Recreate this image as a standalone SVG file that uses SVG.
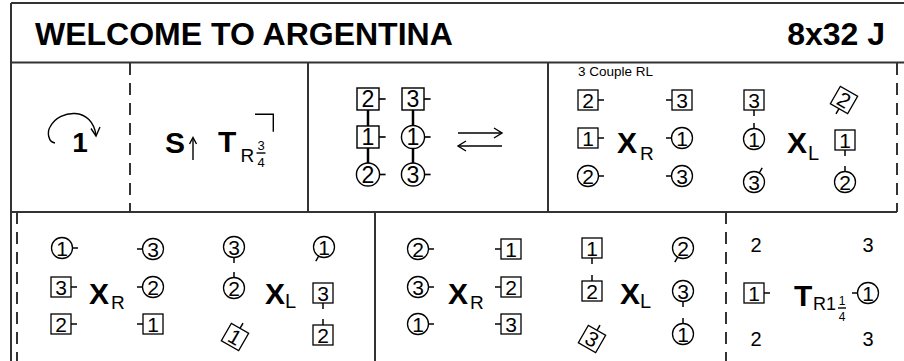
<svg xmlns="http://www.w3.org/2000/svg" xmlns:xlink="http://www.w3.org/1999/xlink" width="904" height="361" viewBox="0 0 904 361">
<style>
.f{fill:none;stroke:#333;stroke-width:2}
.d{stroke-dasharray:12 8}
.s{fill:#fff;stroke:#000;stroke-width:1.3}
.t{stroke:#000;stroke-width:1.5}
.c{fill:none;stroke:#000;stroke-width:1.4}
.k{stroke:#000;stroke-width:2.5}
.n{font-family:'Liberation Sans',Arial,sans-serif;font-size:21px;text-anchor:middle;fill:#000}
.b{font-family:'Liberation Sans',Arial,sans-serif;font-weight:bold;fill:#000}
.r{font-family:'Liberation Sans',Arial,sans-serif;fill:#000}
</style>
<defs>
<rect id="sq" x="-10" y="-10" width="20" height="20"/>
<circle id="ci" r="10.5"/>
<line id="tr" x1="10" y1="0" x2="16" y2="0"/>
<line id="tl" x1="-10" y1="0" x2="-16" y2="0"/>
<line id="tu" x1="0" y1="-10" x2="0" y2="-16"/>
<line id="td" x1="0" y1="10" x2="0" y2="16"/>
<line id="tur" x1="5.2" y1="-9" x2="8.2" y2="-14.2"/>
<line id="tdl" x1="-5.2" y1="9" x2="-8.2" y2="14.2"/>
</defs>
<rect width="904" height="361" fill="#fff"/>
<g id="frame">
<line class="f" x1="11" y1="3" x2="904" y2="3"/>
<line class="f" x1="11" y1="3" x2="11" y2="361"/>
<line class="f" x1="11" y1="62.5" x2="904" y2="62.5"/>
<line class="f" x1="11" y1="212" x2="897" y2="212"/>
<line class="f d" x1="130" y1="63" x2="130" y2="212"/>
<line class="f" x1="308" y1="63" x2="308" y2="212"/>
<line class="f" x1="548" y1="63" x2="548" y2="212"/>
<line class="f d" x1="897" y1="63" x2="897" y2="212"/>
<line class="f d" x1="17" y1="212" x2="17" y2="361"/>
<line class="f" x1="375" y1="212" x2="375" y2="361"/>
<line class="f d" x1="726" y1="212" x2="726" y2="361"/>
</g>
<g id="title">
<text class="b" x="35" y="45" font-size="32">WELCOME TO ARGENTINA</text>
<text class="b" x="885" y="45" font-size="32" text-anchor="end">8x32 J</text>
</g>
<g id="connectors">
<path class="c" d="M55,143 C48,142 47,132 50,127 C55,117 66,113 75,113.5 C86,114 94,122 96,135"/>
<path class="c" d="M91,128.5 L96,136 L100,127"/>
<line class="c" x1="193" y1="160" x2="193" y2="138"/>
<path class="c" d="M189.5,144 L193,137.5 L196.5,144"/>
<path class="c" d="M255,114.3 H273.3 V131.7"/>
<line class="k" x1="368" y1="99" x2="368" y2="174.5"/>
<line class="k" x1="413" y1="99" x2="413" y2="174.5"/>
<line class="c" x1="458" y1="133" x2="502" y2="133"/>
<path class="c" d="M494,128 L502,133 L494,138"/>
<line class="c" x1="458" y1="146" x2="502" y2="146"/>
<path class="c" d="M466,141 L458,146 L466,151"/>
</g>
<g id="cell1">
<text class="b" x="80" y="152" font-size="28" text-anchor="middle">1</text>
</g>
<g id="cell2">
<text class="b" x="165" y="153" font-size="30">S</text>
<text class="b" x="218" y="152" font-size="30">T</text>
<text class="r" x="240.5" y="161.5" font-size="19">R</text>
<text class="r" x="261" y="150" font-size="13" text-anchor="middle">3</text>
<line class="c" x1="256.5" y1="153" x2="265.5" y2="153" stroke-width="1"/>
<text class="r" x="261" y="166.5" font-size="13" text-anchor="middle">4</text>
</g>
<g id="cell3">
<g id="c3a2" transform="translate(368,99) scale(1.1)"><use xlink:href="#sq" class="s"/><use xlink:href="#tr" class="t"/><text class="n" y="7.5">2</text></g>
<g id="c3a1" transform="translate(368,137) scale(1.1)"><use xlink:href="#sq" class="s"/><use xlink:href="#tr" class="t"/><text class="n" y="7.5">1</text></g>
<g id="c3a3" transform="translate(368,174.5) scale(1.1)"><use xlink:href="#ci" class="s"/><use xlink:href="#tr" class="t"/><text class="n" y="7.5">2</text></g>
<g id="c3b1" transform="translate(413,99) scale(1.1)"><use xlink:href="#sq" class="s"/><use xlink:href="#tr" class="t"/><text class="n" y="7.5">3</text></g>
<g id="c3b2" transform="translate(413,137) scale(1.1)"><use xlink:href="#ci" class="s"/><use xlink:href="#tr" class="t"/><text class="n" y="7.5">1</text></g>
<g id="c3b3" transform="translate(413,174.5) scale(1.1)"><use xlink:href="#ci" class="s"/><use xlink:href="#tr" class="t"/><text class="n" y="7.5">3</text></g>
</g>
<g id="cell4">
<text class="r" x="578" y="76" font-size="13.5">3 Couple RL</text>
<g id="c4a1" transform="translate(588,100)"><use xlink:href="#sq" class="s"/><use xlink:href="#tr" class="t"/><text class="n" y="7.5">2</text></g>
<g id="c4a2" transform="translate(588,138)"><use xlink:href="#sq" class="s"/><use xlink:href="#tr" class="t"/><text class="n" y="7.5">1</text></g>
<g id="c4a3" transform="translate(588,176)"><use xlink:href="#ci" class="s"/><use xlink:href="#tr" class="t"/><text class="n" y="7.5">2</text></g>
<g id="c4b1" transform="translate(682,100)"><use xlink:href="#sq" class="s"/><use xlink:href="#tl" class="t"/><text class="n" y="7.5">3</text></g>
<g id="c4b2" transform="translate(682,138)"><use xlink:href="#ci" class="s"/><use xlink:href="#tl" class="t"/><text class="n" y="7.5">1</text></g>
<g id="c4b3" transform="translate(682,176)"><use xlink:href="#ci" class="s"/><use xlink:href="#tl" class="t"/><text class="n" y="7.5">3</text></g>
<text class="b" x="617" y="153" font-size="30">X</text>
<text class="r" x="640" y="160" font-size="19">R</text>
<g id="c4c1" transform="translate(754,100)"><use xlink:href="#sq" class="s"/><use xlink:href="#td" class="t"/><text class="n" y="7.5">3</text></g>
<g id="c4c2" transform="translate(754,139)"><use xlink:href="#ci" class="s"/><use xlink:href="#tu" class="t"/><text class="n" y="7.5">1</text></g>
<g id="c4c3" transform="translate(754,182)"><use xlink:href="#ci" class="s"/><use xlink:href="#tur" class="t"/><text class="n" y="7.5">3</text></g>
<g id="c4d1" transform="translate(844,100) rotate(30)"><use xlink:href="#sq" class="s"/><use xlink:href="#td" class="t"/><text class="n" y="7.5">2</text></g>
<g id="c4d2" transform="translate(845,140)"><use xlink:href="#sq" class="s"/><use xlink:href="#td" class="t"/><text class="n" y="7.5">1</text></g>
<g id="c4d3" transform="translate(845,182)"><use xlink:href="#ci" class="s"/><use xlink:href="#tu" class="t"/><text class="n" y="7.5">2</text></g>
<text class="b" x="787" y="153" font-size="30">X</text>
<text class="r" x="808" y="160" font-size="20">L</text>
</g>
<g id="cell5">
<g id="c5a1" transform="translate(62,248)"><use xlink:href="#ci" class="s"/><use xlink:href="#tr" class="t"/><text class="n" y="7.5">1</text></g>
<g id="c5a2" transform="translate(61,287)"><use xlink:href="#sq" class="s"/><use xlink:href="#tr" class="t"/><text class="n" y="7.5">3</text></g>
<g id="c5a3" transform="translate(61,324)"><use xlink:href="#sq" class="s"/><use xlink:href="#tr" class="t"/><text class="n" y="7.5">2</text></g>
<g id="c5b1" transform="translate(153,249)"><use xlink:href="#ci" class="s"/><use xlink:href="#tl" class="t"/><text class="n" y="7.5">3</text></g>
<g id="c5b2" transform="translate(153,287)"><use xlink:href="#ci" class="s"/><use xlink:href="#tl" class="t"/><text class="n" y="7.5">2</text></g>
<g id="c5b3" transform="translate(153,324)"><use xlink:href="#sq" class="s"/><use xlink:href="#tl" class="t"/><text class="n" y="7.5">1</text></g>
<text class="b" x="89" y="304" font-size="30">X</text>
<text class="r" x="111" y="309" font-size="19">R</text>
<g id="c5c1" transform="translate(234,247)"><use xlink:href="#ci" class="s"/><use xlink:href="#td" class="t"/><text class="n" y="7.5">3</text></g>
<g id="c5c2" transform="translate(234,288)"><use xlink:href="#ci" class="s"/><use xlink:href="#tu" class="t"/><text class="n" y="7.5">2</text></g>
<g id="c5c3" transform="translate(235,337) rotate(30)"><use xlink:href="#sq" class="s"/><use xlink:href="#tu" class="t"/><text class="n" y="7.5">1</text></g>
<g id="c5d1" transform="translate(324,247)"><use xlink:href="#ci" class="s"/><use xlink:href="#tdl" class="t"/><text class="n" y="7.5">1</text></g>
<g id="c5d2" transform="translate(323,293)"><use xlink:href="#sq" class="s"/><use xlink:href="#td" class="t"/><text class="n" y="7.5">3</text></g>
<g id="c5d3" transform="translate(323,335)"><use xlink:href="#sq" class="s"/><use xlink:href="#tu" class="t"/><text class="n" y="7.5">2</text></g>
<text class="b" x="265" y="304" font-size="30">X</text>
<text class="r" x="285" y="308" font-size="20">L</text>
</g>
<g id="cell6">
<g id="c6a1" transform="translate(418,249)"><use xlink:href="#ci" class="s"/><use xlink:href="#tr" class="t"/><text class="n" y="7.5">2</text></g>
<g id="c6a2" transform="translate(418,287)"><use xlink:href="#ci" class="s"/><use xlink:href="#tr" class="t"/><text class="n" y="7.5">3</text></g>
<g id="c6a3" transform="translate(418,324)"><use xlink:href="#ci" class="s"/><use xlink:href="#tr" class="t"/><text class="n" y="7.5">1</text></g>
<g id="c6b1" transform="translate(511,249)"><use xlink:href="#sq" class="s"/><use xlink:href="#tl" class="t"/><text class="n" y="7.5">1</text></g>
<g id="c6b2" transform="translate(511,287)"><use xlink:href="#sq" class="s"/><use xlink:href="#tl" class="t"/><text class="n" y="7.5">2</text></g>
<g id="c6b3" transform="translate(511,324)"><use xlink:href="#sq" class="s"/><use xlink:href="#tl" class="t"/><text class="n" y="7.5">3</text></g>
<text class="b" x="448" y="304" font-size="30">X</text>
<text class="r" x="470" y="309" font-size="19">R</text>
<g id="c6c1" transform="translate(592,248)"><use xlink:href="#sq" class="s"/><use xlink:href="#td" class="t"/><text class="n" y="7.5">1</text></g>
<g id="c6c2" transform="translate(592,291)"><use xlink:href="#sq" class="s"/><use xlink:href="#tu" class="t"/><text class="n" y="7.5">2</text></g>
<g id="c6c3" transform="translate(592,339) rotate(30)"><use xlink:href="#sq" class="s"/><use xlink:href="#tu" class="t"/><text class="n" y="7.5">3</text></g>
<g id="c6d1" transform="translate(683,248)"><use xlink:href="#ci" class="s"/><use xlink:href="#tdl" class="t"/><text class="n" y="7.5">2</text></g>
<g id="c6d2" transform="translate(683,291)"><use xlink:href="#ci" class="s"/><use xlink:href="#td" class="t"/><text class="n" y="7.5">3</text></g>
<g id="c6d3" transform="translate(683,334)"><use xlink:href="#ci" class="s"/><use xlink:href="#tu" class="t"/><text class="n" y="7.5">1</text></g>
<text class="b" x="620" y="304" font-size="30">X</text>
<text class="r" x="640" y="308" font-size="20">L</text>
</g>
<g id="cell7">
<text class="r" x="756" y="252" font-size="20" text-anchor="middle">2</text>
<text class="r" x="868" y="252" font-size="20" text-anchor="middle">3</text>
<g id="c7a" transform="translate(754,293)"><use xlink:href="#sq" class="s"/><use xlink:href="#tr" class="t"/><text class="n" y="7.5">1</text></g>
<text class="b" x="794" y="306" font-size="30">T</text>
<text class="r" x="813" y="310" font-size="18">R1</text>
<text class="r" x="842" y="305" font-size="12" text-anchor="middle">1</text>
<line class="c" x1="838" y1="308" x2="846" y2="308" stroke-width="1"/>
<text class="r" x="842" y="321" font-size="12" text-anchor="middle">4</text>
<g id="c7b" transform="translate(868,293)"><use xlink:href="#ci" class="s"/><use xlink:href="#tl" class="t"/><text class="n" y="7.5">1</text></g>
<text class="r" x="756" y="346" font-size="20" text-anchor="middle">2</text>
<text class="r" x="868" y="346" font-size="20" text-anchor="middle">3</text>
</g>
</svg>
